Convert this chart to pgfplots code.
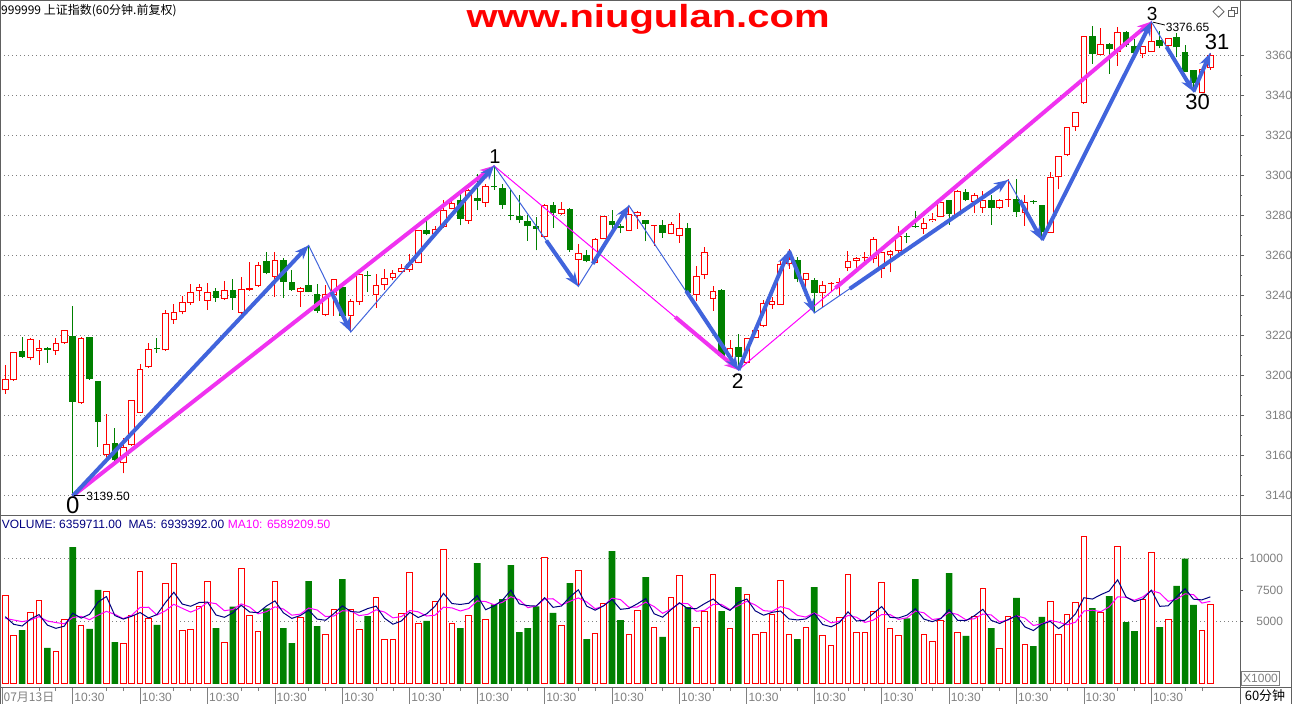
\documentclass[border=0pt]{standalone}
\usepackage{pgfplots}
\pgfplotsset{compat=1.18}
\usepackage{pgfplotstable}
\usetikzlibrary{arrows.meta}
\usepackage{graphicx}
\usepackage{fontspec}
\setmainfont{Liberation Sans}
\newfontfamily\cjk{Noto Sans CJK SC}
\newcommand\fs[1]{\fontsize{#1bp}{#1bp}\selectfont}
\definecolor{cRed}{RGB}{255,0,0}
\definecolor{cGreen}{RGB}{0,128,0}
\definecolor{cBlue}{RGB}{65,100,220}
\definecolor{cPink}{RGB}{240,50,240}
\definecolor{cNavy}{RGB}{0,0,128}
\definecolor{cMag}{RGB}{255,0,255}
\definecolor{cGray}{RGB}{128,128,128}
\definecolor{cFrame}{RGB}{96,96,96}
\pgfplotsset{candle/.style={only marks, mark=*, mark size=0pt, mark options={draw=none, fill=none}, forget plot}}

\pgfplotstableread{
x o h l c v
0 3192.3 3205 3190.7 3197.8 7070
1 3197.3 3211.5 3197 3211.3 3907
3 3208.7 3218.7 3207.3 3217.8 5715
4 3211.8 3217.5 3205 3213.3 6672
6 3211.8 3218.7 3210 3215.8 2631
7 3215.8 3222.5 3215.5 3222.3 5157
9 3185.8 3219 3185.5 3218.5 4678
12 3159.8 3180.3 3157.8 3165.3 7389
14 3155.8 3168.3 3150.8 3164 3269
15 3165 3187.5 3164.5 3187.3 5502
16 3181.2 3205.3 3181 3202.8 8984
17 3203.8 3215.8 3203.5 3212.8 5236
19 3212.3 3232.3 3212 3230.8 8027
20 3227.3 3235.7 3225.7 3231.5 9622
21 3231.3 3239.5 3230.3 3236.5 4279
22 3236.2 3245.3 3235 3241.5 4359
23 3241.8 3245.3 3237 3244.2 6220
24 3237 3246 3232.6 3241.5 8187
26 3238.1 3247 3237.6 3242.6 3349
28 3231.1 3249 3230.6 3243.1 9223
29 3242.6 3256.5 3242 3243.6 5502
30 3244.5 3256.5 3244 3255.1 4200
32 3249 3261.5 3239 3257.3 8187
35 3241.6 3243.8 3234 3243.6 5316
38 3230.1 3244.8 3229.3 3240.3 3987
39 3240.1 3248 3229.5 3247.8 5954
41 3229.3 3238.1 3221.5 3237.1 5954
42 3236.5 3250.5 3235 3250.3 4359
44 3240.1 3250.3 3233.6 3245.1 6937
45 3245.1 3252.8 3242.6 3248.3 3562
46 3248.5 3252.6 3247.3 3251.1 3562
47 3251.6 3255.6 3251.3 3253.3 5635
48 3252.6 3260.6 3251.5 3255.6 8904
49 3256 3272.5 3255.8 3272.3 4838
51 3270.6 3274.3 3270.3 3273.1 6618
52 3274 3287.6 3273.6 3282.6 10765
53 3283 3289 3282.8 3286.1 4838
55 3277 3293 3275.6 3292.6 5502
57 3286.1 3295.6 3284 3294.3 5157
64 3269 3285.3 3268.6 3285.1 10100
66 3280.6 3286.5 3280.1 3283.1 4678
68 3257.6 3265.6 3244.3 3261.1 9064
70 3256.1 3268.3 3256 3268.1 4040
71 3268.1 3279.5 3268 3279.3 6432
74 3272.2 3284.7 3272 3280.5 3960
75 3279.5 3282.2 3273 3281.5 5874
77 3274.4 3274.8 3264.7 3274.6 4519
79 3270.5 3276.4 3270.3 3275.5 6937
80 3269.5 3281.2 3266 3273.5 8665
82 3240.2 3254.7 3236.9 3249.4 4519
83 3250 3263.9 3248 3261.7 5821
84 3238 3244.7 3232.2 3241.9 8745
86 3208.9 3217.5 3208.5 3213.5 4439
88 3205.9 3218.7 3205.5 3218.5 7150
89 3218.5 3222.7 3218.3 3222.5 3987
90 3224.4 3237.7 3223.9 3236 4120
91 3235 3238.9 3233 3237.2 5582
92 3235 3256.9 3235 3255.5 8266
93 3255.5 3263 3253 3258 3987
95 3247.5 3251 3244.2 3250.9 4519
97 3240.9 3247 3234.2 3245 3881
98 3245.5 3246.5 3241.3 3245.8 3083
99 3246.2 3248.5 3239.7 3246.5 5316
100 3253.4 3261.9 3252.2 3257.2 8745
101 3256.9 3258.8 3252.5 3258.5 4120
102 3258.7 3261.4 3255.9 3259 4120
103 3258 3268.9 3255.9 3268 5795
104 3253 3261.5 3248.5 3261.4 8107
105 3260 3262.3 3251.4 3262.2 4439
106 3261.9 3274.7 3260.9 3269.7 3881
109 3273 3278.4 3270.5 3276 3960
110 3276.9 3280.9 3276.4 3278 3402
111 3279.2 3286.5 3278.9 3286.4 5077
113 3280 3292.5 3279.9 3291.9 4120
115 3286.7 3290.9 3280.9 3290 5343
116 3283.5 3291.9 3281 3287.7 7629
118 3283.5 3288 3283 3287.7 2844
119 3287.5 3298 3284 3288 5422
121 3280.8 3290 3274.7 3286.7 3163
124 3271.2 3301.7 3271 3299.2 6592
125 3298.8 3309.7 3292.8 3309.5 3960
126 3310 3324 3309.5 3323.8 5555
127 3323.8 3331.5 3322.2 3331.3 6512
128 3335.8 3369.7 3335.5 3369.5 11775
130 3360 3373.3 3359.8 3365.3 5715
132 3361.7 3373.8 3354.5 3371.7 10977
135 3360.5 3364.7 3358.3 3364.5 6751
136 3361.7 3376.65 3361.5 3367.2 10499
138 3364.5 3368.5 3364.2 3368.3 5157
142 3341.2 3353 3341 3352.8 4279
143 3353.3 3361 3352.5 3360 6353
}\redT

\pgfplotstableread{
x o h l c v
2 3212 3219 3208.7 3209.2 4306
5 3212.9 3214 3206.2 3212.7 2871
8 3219.5 3234.5 3139.5 3186.7 10924
10 3219 3219.2 3197.5 3197.8 4386
11 3197 3197 3164.2 3176.7 7496
13 3166 3173.3 3157 3157.3 3349
18 3212.9 3218.7 3211.2 3212.8 4705
25 3241.8 3243.5 3236.5 3238.6 4465
27 3242.6 3247.8 3232.6 3238.6 6167
31 3256.8 3261.5 3250.3 3251 6034
33 3257.3 3258.5 3238.5 3246.5 4465
34 3246.3 3252.3 3242 3242.6 3269
36 3244.8 3264.8 3241.3 3241.5 8213
37 3240.3 3245.6 3231 3232 4625
40 3243.8 3244 3229.3 3229.5 8373
43 3249.7 3251.8 3241.5 3249.5 5422
50 3272.3 3277 3269.8 3270.6 5024
54 3287.3 3291.5 3274.8 3278 4465
56 3288.3 3300.3 3282.3 3287 9649
58 3294.2 3304.6 3292.6 3293.9 6353
59 3293.3 3295.6 3283.1 3285 6778
60 3279.8 3292.3 3277.3 3279.5 9489
61 3279.5 3289.8 3276 3277.3 4146
62 3276.8 3279.8 3267 3274.3 4465
63 3274.3 3279 3262.3 3273 6193
65 3284.8 3286.5 3273.5 3281 5662
67 3283.1 3283.3 3261.5 3262.3 8054
69 3260.1 3262.6 3256.3 3257 3588
72 3277.2 3282.7 3272.5 3275 10605
73 3274.7 3275.5 3270.9 3273.5 5103
76 3277.5 3277.7 3266.9 3275.5 8532
78 3275 3277.5 3268.5 3271 3748
81 3273.7 3276.2 3240.5 3240.9 6140
85 3242.7 3243 3209.5 3209.7 5821
87 3214.2 3220.5 3202.5 3208.9 7735
94 3257.7 3259.2 3246.4 3247.9 3588
96 3247.7 3248.5 3231 3240.9 7735
107 3269.3 3270.9 3265.9 3269.1 5236
108 3274.7 3282.2 3273.5 3273.9 8373
112 3287.5 3287.6 3275.2 3280.5 8851
114 3291.5 3293 3286.9 3287.7 3828
117 3287.7 3290.2 3275 3283.5 4465
120 3287.8 3298 3279.2 3281.3 6858
122 3286.8 3287.5 3285.5 3286.5 3030
123 3285 3285.2 3267.5 3271.7 5343
129 3369.5 3374.5 3355.5 3360.3 6060
131 3365.5 3366.2 3350.5 3362.8 7017
133 3371.7 3371.8 3364.2 3365 4944
134 3364.5 3367.8 3360.5 3360.8 4226
137 3367.5 3372.2 3363.3 3364.5 4545
139 3368.8 3371.2 3358.8 3363.8 7815
140 3361.7 3365 3351.5 3351.7 9994
141 3352.5 3352.7 3341.7 3345.8 6300
}\greenT

\pgfplotstableread{
x ma5 ma10
0 5369 5236
1 4758 5103
2 4625 4970
3 5183 5103
4 5534 5369
5 4694 5024
6 4439 4900
7 4609 4800
8 5651 5300
9 5252 5393
10 5555 5125
11 6528 5484
12 6975 5792
13 5460 5555
14 5178 5215
15 5401 5478
16 5699 6113
17 5268 6121
18 5539 5499
19 6491 5834
20 7315 6358
21 6374 6036
22 6198 5733
23 6501 6020
24 6533 6512
25 5502 6408
26 5316 5845
27 5678 5938
28 6278 6390
29 5741 6137
30 5688 5595
31 6225 5771
32 6629 6153
33 5678 5978
34 5231 5486
35 5454 5571
36 5890 6058
37 5178 5903
38 5082 5380
39 5619 5425
40 6230 5842
41 5779 5834
42 5725 5452
43 6012 5547
44 6209 5914
45 5247 5739
46 4768 5274
47 5024 5375
48 5720 5866
49 5300 5755
50 5593 5420
51 6204 5486
52 7230 6127
53 6417 6068
54 6342 5821
55 6438 6015
56 7044 6624
57 5922 6576
58 6225 6321
59 6688 6515
60 7485 6961
61 6385 6714
62 6246 6084
63 6214 6220
64 6879 6783
65 6113 6799
66 6220 6302
67 6937 6592
68 7512 6863
69 6209 6544
70 5885 5999
71 6236 6228
72 6746 6842
73 5954 6733
74 6028 6119
75 6395 6140
76 6815 6525
77 5598 6172
78 5327 5640
79 5922 5975
80 6480 6438
81 6002 6408
82 6002 5800
83 6416 5872
84 6778 6350
85 6209 6345
86 5869 5935
87 6512 6257
88 6778 6597
89 5826 6302
90 5486 5848
91 5715 5792
92 5821 6167
93 5188 5983
94 5109 5468
95 5188 5337
96 5619 5667
97 4742 5282
98 4561 4875
99 4907 5008
100 5752 5470
101 5029 5324
102 5077 4909
103 5619 5090
104 6177 5542
105 5316 5534
106 5268 5149
107 5492 5284
108 6007 5813
109 5178 5678
110 4970 5143
111 5210 5239
112 5933 5712
113 5082 5545
114 5056 5117
115 5444 5207
116 5954 5582
117 5077 5505
118 4822 4952
119 5141 5098
120 5444 5444
121 4550 5252
122 4263 4670
123 4763 4793
124 4997 5069
125 4418 4931
126 4896 4723
127 5592 4928
128 6879 5821
129 6772 5885
130 7123 5771
131 7416 6156
132 8309 6951
133 6943 6911
134 6576 6674
135 6783 6953
136 7479 7448
137 6193 7251
138 6236 6589
139 6953 6765
140 7602 7193
141 6762 7121
142 6709 6451
143 6948 6592
}\maT

\begin{document}
\begin{tikzpicture}
\useasboundingbox (0,0) rectangle (1292bp,704bp);
\fill[white] (0,0) rectangle (1292bp,704bp);

% ---------------- price panel ----------------
\begin{axis}[
  at={(0bp,189bp)}, anchor=south west, scale only axis,
  width=1240bp, height=515bp,
  xmin=-0.629, xmax=146.52, ymin=3130, ymax=3387.5,
  clip=false, axis line style={draw=none},
  scaled y ticks=false,
  xtick=\empty,
  ytick={3140,3160,...,3360},
  yticklabels={3140,3160,3180,3200,3220,3240,3260,3280,3300,3320,3340,3360},
  ymajorgrids, grid style={cGray, line width=0.8bp, dash pattern=on 1bp off 3bp},
  ytick pos=right, yticklabel pos=right, tick align=outside,
  minor y tick num=1,
  ytick style={cFrame, line width=0.8bp, /pgfplots/major tick length=4bp},
  minor tick length=2bp,
  yticklabel style={anchor=east, xshift=48bp, inner sep=0pt, font=\fs{12}, text=cGray},
]
% red candles
\addplot[candle, error bars/.cd, y dir=plus, y explicit, error mark=none,
  error bar style={draw=cRed, line width=1bp}]
  table[x=x, y=l, y error expr=\thisrow{h}-\thisrow{l}] {\redT};
\addplot[candle, error bars/.cd, y dir=plus, y explicit, error mark=none,
  error bar style={draw=cRed, line width=6.6bp}]
  table[x=x, y=o, y error expr={max(\thisrow{c}-\thisrow{o},0.5)}] {\redT};
\addplot[candle, error bars/.cd, y dir=plus, y explicit, error mark=none,
  error bar style={draw=white, line width=4.6bp}]
  table[x=x, y expr=\thisrow{o}+0.5, y error expr={max(\thisrow{c}-\thisrow{o}-1,0)}] {\redT};
% green candles
\addplot[candle, error bars/.cd, y dir=plus, y explicit, error mark=none,
  error bar style={draw=cGreen, line width=1bp}]
  table[x=x, y=l, y error expr=\thisrow{h}-\thisrow{l}] {\greenT};
\addplot[candle, error bars/.cd, y dir=plus, y explicit, error mark=none,
  error bar style={draw=cGreen, line width=6.6bp}]
  table[x=x, y=c, y error expr={max(\thisrow{o}-\thisrow{c},0.6)}] {\greenT};

% thin zigzag lines
\addplot[cMag, line width=1bp, mark=none] coordinates {(8,3139.5) (58,3304.6) (87,3202.5) (136,3376.65)};
\addplot[cBlue, line width=1bp, mark=none] coordinates {(8,3139.5) (36,3264.8) (41,3221.5) (58,3304.6) (68,3244.3) (74,3284.7) (87,3202.5) (93,3262) (96,3231) (119,3297.5) (123,3267.5) (136,3376.65) (141,3341.7) (143,3361)};
% thick pink arrows
\addplot[cPink, line width=4bp, mark=none, -{Stealth[length=14bp,width=11bp]}] coordinates {(8,3139.5) (58,3304.6)};
\addplot[cPink, line width=4bp, mark=none, -{Stealth[length=14bp,width=11bp]}] coordinates {(79.5,3229) (87,3202.5)};
\addplot[cPink, line width=4bp, mark=none, -{Stealth[length=14bp,width=11bp]}] coordinates {(98.5,3243.4) (136,3376.65)};
% thick blue arrows
\addplot[cBlue, line width=4bp, mark=none, -{Stealth[length=14bp,width=11bp]}] coordinates {(8,3139.5) (36,3264.8)};
\addplot[cBlue, line width=4bp, mark=none, -{Stealth[length=14bp,width=11bp]}] coordinates {(38.7,3241.5) (41,3221.5)};
\addplot[cBlue, line width=4bp, mark=none, -{Stealth[length=14bp,width=11bp]}] coordinates {(47.5,3253.3) (58,3304.6)};
\addplot[cBlue, line width=4bp, mark=none, -{Stealth[length=14bp,width=11bp]}] coordinates {(64.2,3267.2) (68,3244.3)};
\addplot[cBlue, line width=4bp, mark=none, -{Stealth[length=14bp,width=11bp]}] coordinates {(69.7,3255.6) (74,3284.7)};
\addplot[cBlue, line width=4bp, mark=none, -{Stealth[length=14bp,width=11bp]}] coordinates {(80.8,3242) (87,3202.5)};
\addplot[cBlue, line width=4bp, mark=none, -{Stealth[length=14bp,width=11bp]}] coordinates {(87,3202.5) (93,3262)};
\addplot[cBlue, line width=4bp, mark=none, -{Stealth[length=14bp,width=11bp]}] coordinates {(93,3262) (96,3231)};
\addplot[cBlue, line width=4bp, mark=none, -{Stealth[length=14bp,width=11bp]}] coordinates {(100.2,3243.1) (119,3297.5)};
\addplot[cBlue, line width=4bp, mark=none, -{Stealth[length=14bp,width=11bp]}] coordinates {(120.4,3287.3) (123,3267.5)};
\addplot[cBlue, line width=4bp, mark=none, -{Stealth[length=14bp,width=11bp]}] coordinates {(123,3267.5) (136,3376.65)};
\addplot[cBlue, line width=4bp, mark=none, -{Stealth[length=14bp,width=11bp]}] coordinates {(137.8,3364.1) (141,3341.7)};
\addplot[cBlue, line width=4bp, mark=none, -{Stealth[length=14bp,width=11bp]}] coordinates {(141,3341.7) (143,3361)};

% annotations
\node[anchor=base, inner sep=0pt, font=\fs{24}] at (axis cs:8,3130.5) {0};
\node[anchor=base, inner sep=0pt, font=\fs{20}] at (axis cs:58.1,3305.5) {1};
\node[anchor=base, inner sep=0pt, font=\fs{21}] at (axis cs:86.9,3193) {2};
\node[anchor=base, inner sep=0pt, font=\fs{19}] at (axis cs:136.1,3377.2) {3};
\node[anchor=base, inner sep=0pt, font=\fs{22}] at (axis cs:141.5,3332.5) {30};
\node[anchor=base, inner sep=0pt, font=\fs{22}] at (axis cs:143.8,3362.5) {31};
\draw[black, line width=0.8bp] (axis cs:8.1,3140) -- (axis cs:9.5,3140);
\node[anchor=west, inner sep=0pt, font=\fs{12}] at (axis cs:9.6,3139.3) {3139.50};
\draw[black, line width=0.8bp] (axis cs:136.2,3376.4) -- (axis cs:137.6,3375);
\node[anchor=base west, inner sep=0pt, font=\fs{12}] at (axis cs:137.7,3371.7) {3376.65};
\end{axis}

% ---------------- volume panel ----------------
\begin{axis}[
  at={(0bp,16bp)}, anchor=south west, scale only axis,
  width=1240bp, height=173bp,
  xmin=-0.629, xmax=146.52, ymin=-319, ymax=13477,
  clip=false, axis line style={draw=none},
  scaled y ticks=false, scaled x ticks=false,
  ytick={5000,10000}, yticklabels={5000,10000},
  extra y ticks={7500}, extra y tick labels={7500}, extra y tick style={grid=none},
  ymajorgrids, grid style={cGray, line width=0.8bp, dash pattern=on 1bp off 3bp},
  ytick pos=right, yticklabel pos=right, tick align=outside,
  ytick style={cFrame, line width=0.8bp, /pgfplots/major tick length=3bp},
  yticklabel style={anchor=east, xshift=39bp, inner sep=0pt, font=\fs{12}, text=cGray},
  xtick={-0.4,8,16,...,136},
  xticklabels={{\cjk 07月13日},10:30,10:30,10:30,10:30,10:30,10:30,10:30,10:30,10:30,10:30,10:30,10:30,10:30,10:30,10:30,10:30,10:30},
  xtick pos=bottom,
  xtick style={cGray, line width=0.8bp, /pgfplots/major tick length=16bp},
  minor xtick={4,6,12,14,20,22,28,30,36,38,44,46,52,54,60,62,68,70,76,78,84,86,92,94,100,102,108,110,116,118,124,126,132,134,140,142},
  minor tick length=3bp,
  xticklabel style={anchor=west, yshift=-5bp, xshift=1.5bp, inner sep=0pt, font=\fs{12}, text=cGray},
]
\addplot[ybar, bar width=5.6bp, bar shift=0pt, draw=cRed, fill=white, line width=1bp, forget plot] table[x=x, y=v] {\redT};
\addplot[ybar, bar width=6.6bp, bar shift=0pt, draw=none, fill=cGreen, forget plot] table[x=x, y=v] {\greenT};
\addplot[cMag, line width=1bp, mark=none] table[x=x, y=ma10] {\maT};
\addplot[cNavy, line width=1bp, mark=none] table[x=x, y=ma5] {\maT};
\end{axis}

% ---------------- frame and texts ----------------
\draw[cFrame, line width=1bp] (0.5bp,0) -- (0.5bp,704bp);
\draw[cFrame, line width=1bp] (1240.5bp,0) -- (1240.5bp,704bp);
\draw[cFrame, line width=1bp] (0,188.5bp) -- (1292bp,188.5bp);
\draw[cFrame, line width=1bp] (0,16bp) -- (1292bp,16bp);
\draw[cFrame, line width=1bp] (0,703.5bp) -- (1292bp,703.5bp);
\draw[cFrame, line width=1bp] (1291.5bp,0) -- (1291.5bp,704bp);

\node[anchor=base west, inner sep=0pt, font=\cjk\fs{12}] at (1bp,689bp) {999999 上证指数(60分钟.前复权)};
\node[anchor=base, inner sep=0pt, text=cRed, font=\bfseries\fs{32}] at (648bp,676bp) {\scalebox{1.25}[1]{www.niugulan.com}};

\node[anchor=base west, inner sep=0pt, text=cNavy, font=\fs{12}] at (1.7bp,175.7bp) {VOLUME: 6359711.00};
\node[anchor=base west, inner sep=0pt, text=cNavy, font=\fs{12}] at (128.3bp,175.7bp) {MA5: 6939392.00};
\node[anchor=base west, inner sep=0pt, text=cMag, font=\fs{12}] at (227.7bp,175.7bp) {MA10: 6589209.50};

\draw[cGray, line width=0.8bp] (1241.7bp,19bp) rectangle (1279.3bp,32.3bp);
\node[inner sep=0pt, text=cGray, font=\fs{12}] at (1260.5bp,25.7bp) {X1000};
\node[inner sep=0pt, font=\cjk\fs{13}] at (1265bp,8bp) {60分钟};

\draw[cFrame, line width=0.8bp] (1213bp,692.3bp) -- (1218.5bp,697.8bp) -- (1224bp,692.3bp) -- (1218.5bp,686.8bp) -- cycle;
\draw[cFrame, line width=0.8bp] (1231bp,691bp) rectangle (1237bp,697bp);
\draw[cFrame, fill=white, line width=0.8bp] (1228bp,688bp) rectangle (1234bp,694bp);
\end{tikzpicture}
\end{document}
